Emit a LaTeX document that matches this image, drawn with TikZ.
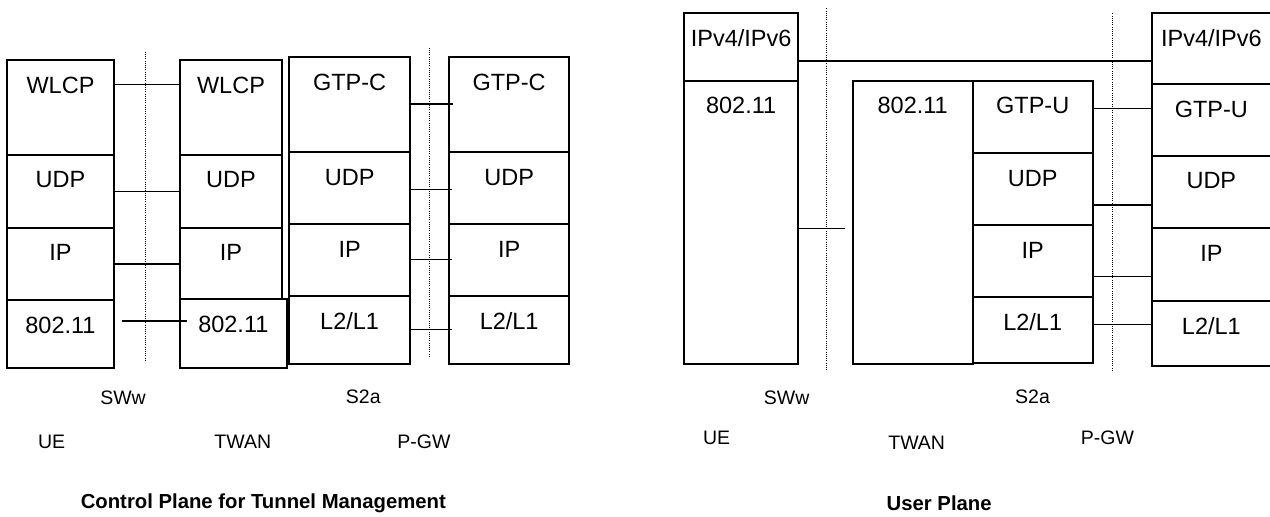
\documentclass[tikz,border=0pt]{standalone}
\usepackage{fontspec}
\setmainfont{Liberation Sans}
\usepackage{tikz}
\usetikzlibrary{calc,positioning}

\tikzset{
  layerbox/.style={draw, line width=0.9pt, inner sep=0pt, anchor=center},
  layertext/.style={font=\fontsize{11.75}{14}\selectfont, inner sep=0pt},
  wire/.style={line width=0.65pt},
  refline/.style={line width=0.5pt, dash pattern=on 0.5pt off 0.6pt},
  tag/.style={font=\fontsize{9.75}{12}\selectfont, inner sep=0pt},
  caption/.style={font=\fontsize{10.15}{12}\selectfont\bfseries, inner sep=0pt}
}
% \layer{name}{left}{top}{right}{bottom}{text}
\newcommand{\layer}[6]{%
  \node[layerbox, minimum width={(#4-#2)*0.5pt}, minimum height={(#5-#3)*0.5pt}]
    (#1) at ({(#2+#4)/2},{(#3+#5)/2}) {};
  \node[layertext] (#1-t) at ({(#2+#4)/2},{#3+25}) {#6};
}
% \link[options]{from}{to}{y}
\newcommand{\link}[4][]{%
  \draw[wire,#1] (#2.east |- 0,#4) -- (#3.west |- 0,#4);
}

\begin{document}
\begin{tikzpicture}[x=0.5pt, y=-0.5pt]
  \useasboundingbox (0,0) rectangle (1270,516);
  % Control plane: UE
  \layer{ueWlcp}{7}{60.3}{114}{155}{WLCP}
  \layer{ueUdp}{7}{155}{114}{227.7}{UDP}
  \layer{ueIp}{7}{227.7}{114}{300}{IP}
  \layer{ueLan}{7}{300}{114}{367.7}{802.11}
  % Control plane: TWAN
  \layer{twWlcp}{180}{60.3}{282}{155}{WLCP}
  \layer{twUdp}{180}{155}{282}{227.7}{UDP}
  \layer{twIp}{180}{227.7}{282}{299}{IP}
  \layer{twLan}{180}{299}{286.7}{367.7}{802.11}
  \layer{twGtpc}{289.3}{57.3}{410}{152.3}{GTP-C}
  \layer{twUdpS}{289.3}{152.3}{410}{224}{UDP}
  \layer{twIpS}{289.3}{224}{410}{295.7}{IP}
  \layer{twL2}{289.3}{295.7}{410}{364.3}{L2/L1}
  % Control plane: P-GW
  \layer{pgGtpc}{449}{57.3}{569.3}{152.3}{GTP-C}
  \layer{pgUdp}{449}{152.3}{569.3}{224}{UDP}
  \layer{pgIp}{449}{224}{569.3}{295.7}{IP}
  \layer{pgL2}{449}{295.7}{569.3}{364.3}{L2/L1}
  % reference points
  \draw[refline] (145,51.7) -- (145,361);
  \draw[refline] (429.3,47.7) -- (429.3,356.7);
  % peer links
  \link{ueWlcp}{twWlcp}{84.7}
  \link{ueUdp}{twUdp}{191.7}
  \link{ueIp}{twIp}{264}
  \link[shorten <=3.5pt, shorten >=-4pt]{ueLan}{twLan}{321}
  \link[shorten >=-2.3pt]{twGtpc}{pgGtpc}{104}
  \link[shorten <=-0.8pt, shorten >=-2pt]{twUdpS}{pgUdp}{189.3}
  \link[shorten >=-2pt]{twIpS}{pgIp}{259.3}
  \link[shorten >=-2pt]{twL2}{pgL2}{329.3}
  \node[tag] (cSww) at (123,397.3) {SWw};
  \node[tag] (cS2a) at (363.3,397) {S2a};
  \node[tag] (cUe) at (51.7,441.7) {UE};
  \node[tag] (cTwan) at (242.8,441.7) {TWAN};
  \node[tag] (cPgw) at (424,441.7) {P-GW};
  \node[caption] (cTitle) at (263.3,503.3) {Control Plane for Tunnel Management};

  % User plane: UE
  \layer{uuIpv}{684}{13.3}{798.3}{80.7}{IPv4/IPv6}
  \layer{uuLan}{684}{80.7}{798.3}{364.3}{802.11}
  % User plane: TWAN
  \layer{tuLan}{852.7}{80.7}{972.7}{364.3}{802.11}
  \layer{tuGtpu}{972.7}{80.7}{1092.7}{153.3}{GTP-U}
  \layer{tuUdp}{972.7}{153.3}{1092.7}{225}{UDP}
  \layer{tuIp}{972.7}{225}{1092.7}{296.7}{IP}
  \layer{tuL2}{972.7}{296.7}{1092.7}{363.3}{L2/L1}
  % User plane: P-GW
  \layer{puIpv}{1151.7}{12.7}{1271}{84}{IPv4/IPv6}
  \layer{puGtpu}{1151.7}{84}{1271}{155.7}{GTP-U}
  \layer{puUdp}{1151.7}{155.7}{1271}{228.3}{UDP}
  \layer{puIp}{1151.7}{228.3}{1271}{300.7}{IP}
  \layer{puL2}{1151.7}{300.7}{1271}{366}{L2/L1}
  % reference points
  \draw[refline] (826.7,8.3) -- (826.7,370);
  \draw[refline] (1112.3,13.3) -- (1112.3,370);
  % peer links
  \link{uuIpv}{puIpv}{61}
  \link[shorten >=3.3pt]{uuLan}{tuLan}{228.7}
  \link{tuGtpu}{puGtpu}{108.3}
  \link{tuUdp}{puUdp}{205}
  \link{tuIp}{puIp}{276.7}
  \link{tuL2}{puL2}{324.3}
  \node[tag] (uSww) at (786.7,397.3) {SWw};
  \node[tag] (uS2a) at (1032.5,397) {S2a};
  \node[tag] (uUe) at (716.7,438.3) {UE};
  \node[tag] (uTwan) at (916.7,442.7) {TWAN};
  \node[tag] (uPgw) at (1107.5,438) {P-GW};
  \node[caption] (uTitle) at (939.2,503.3) {User Plane};
\end{tikzpicture}
\end{document}
